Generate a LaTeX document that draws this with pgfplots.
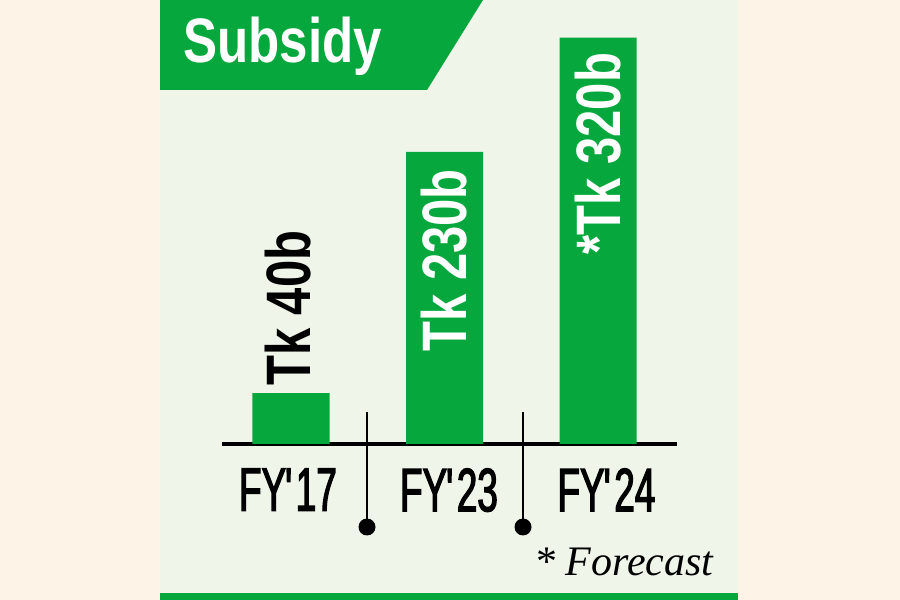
\documentclass[border=0pt]{standalone}
\usepackage{pgfplots}
\pgfplotsset{compat=1.18}
\usepackage{fontspec}
\setmainfont{Liberation Sans}
\newfontfamily\condB{Liberation Sans Bold}[FakeStretch=0.78]
\newfontfamily\condT{Liberation Sans Bold}[FakeStretch=0.813]
\newfontfamily\condR{Liberation Sans}[FakeStretch=0.6,FakeBold=2]
\newfontfamily\serifI{Liberation Serif Italic}
\definecolor{dsgreen}{RGB}{6,167,60}
\definecolor{panel}{RGB}{240,245,234}
\definecolor{peach}{RGB}{254,243,231}
\newcommand{\ap}{\kern-0.5pt\textquotesingle\kern-0.5pt}

\begin{document}
\begin{tikzpicture}
\path[use as bounding box] (0,0) rectangle (450pt,300pt);
\begin{scope}[x=0.5pt,y=0.5pt]
\fill[peach] (0,0) rectangle (900,600);
\fill[panel] (160,0) rectangle (738,600);
\fill[dsgreen] (160,600) -- (483,600) -- (427,510) -- (160,510) -- cycle;
\fill[dsgreen] (160,0) rectangle (738,7);
\node[anchor=base west, inner sep=0pt, text=white] at (183,537) {\condT\fontsize{31.4pt}{32pt}\selectfont Subsidy};
\end{scope}
\begin{axis}[
  at={(111pt,78pt)}, anchor=south west,
  x=76.75pt, y=0.635pt,
  xmin=-0.4495, xmax=2.515, ymin=0, ymax=340,
  axis x line*=bottom, axis y line=none,
  axis line style={line width=2pt, black},
  ytick=\empty,
  xtick={-0.02,1.029,2.055},
  xticklabels={FY\ap17,FY\ap23,FY\ap24},
  major tick length=0pt,
  xticklabel style={font=\condR\fontsize{30.7pt}{32pt}\selectfont, inner sep=0pt, anchor=north, yshift=-12pt},
  clip=false,
]
\addplot[ybar, bar width=38.5pt, fill=dsgreen, draw=none] coordinates {(0,40) (1,230) (2,320)};
\node[rotate=90, anchor=west, inner sep=0pt, text=black, font=\condB\fontsize{31.4pt}{32pt}\selectfont] at ([xshift=-1.5pt,yshift=3.5pt]axis cs:0,40) {Tk 40b};
\node[rotate=90, anchor=east, inner sep=0pt, text=white, font=\condB\fontsize{31.4pt}{32pt}\selectfont] at ([yshift=-8.5pt]axis cs:1,230) {Tk 230b};
\node[rotate=90, anchor=east, inner sep=0pt, text=white, font=\condB\fontsize{31.4pt}{32pt}\selectfont] at ([yshift=-7.5pt]axis cs:2,320) {*Tk 320b};
\end{axis}
\begin{scope}[x=0.5pt,y=0.5pt]
\draw[line width=1.1pt] (367,188) -- (367,73);
\fill (367,73) circle (8.5);
\draw[line width=1.1pt] (523,188) -- (523,73);
\fill (523,73) circle (8.5);
\node[anchor=base east, inner sep=0pt] at (714,25) {\serifI\fontsize{21pt}{22pt}\selectfont * Forecast};
\end{scope}
\end{tikzpicture}
\end{document}
